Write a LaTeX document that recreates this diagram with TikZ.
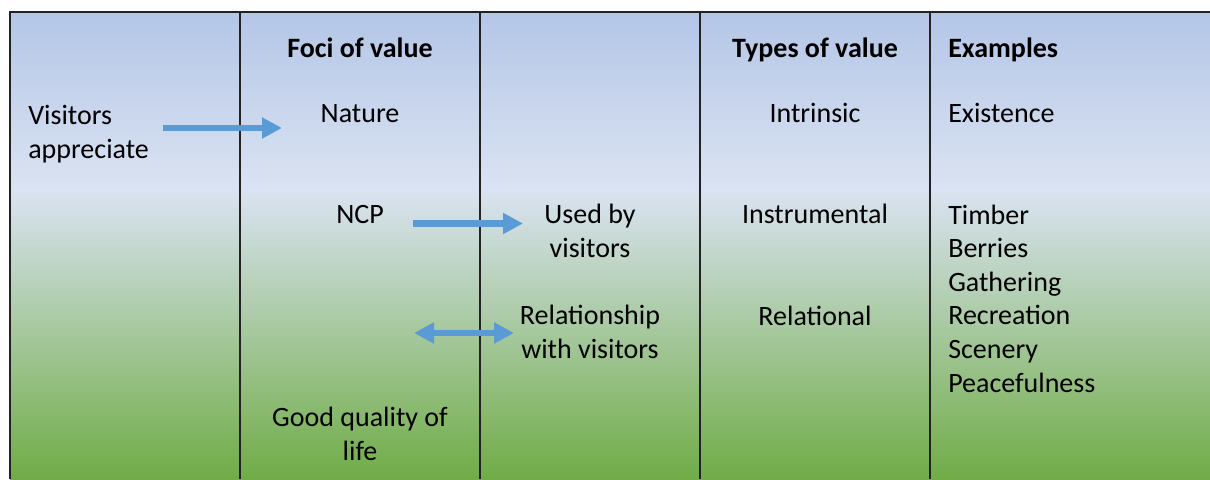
\documentclass[tikz,border=0pt]{standalone}
\usepackage{fontspec}
\setmainfont{Carlito}
\usetikzlibrary{arrows.meta}
\definecolor{arrowblue}{RGB}{91,155,213}
\definecolor{framegray}{RGB}{35,35,35}
\definecolor{topblue}{RGB}{180,198,231}
\definecolor{midlight}{RGB}{218,227,242}
\definecolor{botgreen}{RGB}{112,172,70}
\pgfdeclareverticalshading{bgshade}{100bp}{color(0bp)=(botgreen); color(25bp)=(botgreen); color(56bp)=(midlight); color(75bp)=(topblue); color(100bp)=(topblue)}
\begin{document}
\begin{tikzpicture}[x=0.75pt,y=-0.75pt,
  txt/.style={font=\fontsize{21}{25.2}\selectfont, inner sep=0pt, align=center, anchor=base},
  hdr/.style={txt, font=\fontsize{21}{25.2}\selectfont\bfseries},
  lft/.style={txt, align=left, anchor=base west},
  frame/.style={draw=framegray, line width=1.3pt},
  bigarrow/.style={draw=arrowblue, line width=4.8pt, -{Triangle[length=15pt,width=15pt]}},
  dblarrow/.style={draw=arrowblue, line width=4.8pt, {Triangle[length=15pt,width=15pt]}-{Triangle[length=15pt,width=15pt]}}]
\useasboundingbox (0,0) rectangle (1210,479);
\shade[shading=bgshade] (10,12) rectangle (1210,479);
\draw[frame] (10,479) -- (10,12) -- (1210,12);
\foreach \xx in {240,480,700,930} \draw[frame] (\xx,12) -- (\xx,479);
% headers
\node[hdr] (foci) at (360,57) {Foci of value};
\node[hdr] (types) at (815,57) {Types of value};
\node[hdr, anchor=base west] (ex) at (948,57) {Examples};
% row 1 (multi-line nodes are anchored at the baseline of their last line)
\node[lft] (visitors) at (28,158) {Visitors\\appreciate};
\node[txt] (nature) at (360,122) {Nature};
\node[txt] (intrinsic) at (815,122) {Intrinsic};
\node[lft] (existence) at (948,122) {Existence};
% row 2
\node[txt] (ncp) at (360,223) {NCP};
\node[txt] (used) at (590,257) {Used by\\visitors};
\node[txt] (instr) at (815,223) {Instrumental};
\node[lft] (exlist) at (948,392) {Timber\\Berries\\Gathering\\Recreation\\Scenery\\Peacefulness};
% row 3
\node[txt] (relship) at (590,358) {Relationship\\with visitors};
\node[txt] (relational) at (815,325) {Relational};
% row 4
\node[txt] (gqol) at (360,460) {Good quality of\\life};
% arrow end points
\coordinate (a1s) at (163,128);
\coordinate (a1e) at (282,128);
\coordinate (a2s) at (413,223.5);
\coordinate (a2e) at (523,223.5);
\coordinate (a3s) at (414,333);
\coordinate (a3e) at (514,333);
\draw[bigarrow] (a1s) -- (a1e);
\draw[bigarrow] (a2s) -- (a2e);
\draw[dblarrow] (a3s) -- (a3e);
\end{tikzpicture}
\end{document}
